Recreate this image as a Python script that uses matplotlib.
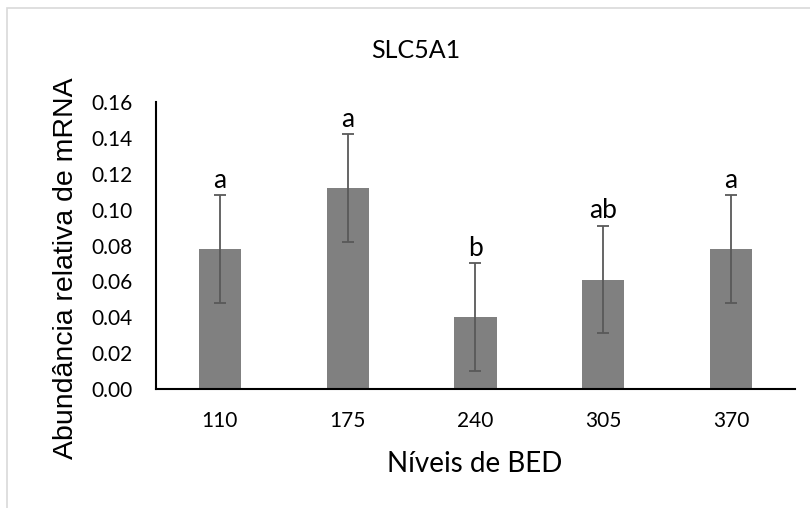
import matplotlib
matplotlib.use("Agg")
import matplotlib.pyplot as plt
from matplotlib.patches import Rectangle

categories = ["110", "175", "240", "305", "370"]
values = [0.078, 0.112, 0.040, 0.061, 0.078]
errors = [0.030, 0.030, 0.030, 0.030, 0.030]
letters = ["a", "a", "b", "ab", "a"]
yticks = [0.00, 0.02, 0.04, 0.06, 0.08, 0.10, 0.12, 0.14, 0.16]

calibri = ["Lato", "DejaVu Sans"]
arial = ["Liberation Sans", "DejaVu Sans"]

fig = plt.figure(figsize=(8.1, 5.08), dpi=100)
fig.patches.append(Rectangle((7/810, -0.1), 1.1, 1 - 8/508 + 0.1, transform=fig.transFigure,
                             fill=False, edgecolor="#d9d9d9", linewidth=1.2))
ax = fig.add_axes([156/810, 1 - 389/508, (795 - 156)/810, (389 - 102)/508])

x = list(range(len(categories)))
ax.bar(x, values, width=0.33, color="#808080", zorder=2)
ax.errorbar(x, values, yerr=errors, fmt="none", ecolor="#595959", elinewidth=1.3,
            capsize=4.5, capthick=1.3, zorder=3)
for xi, v, e, t in zip(x, values, errors, letters):
    ax.annotate(t, (xi, v + e), xytext=(0, 5.5), textcoords="offset points",
                ha="center", va="baseline", fontsize=19, family=calibri)

ax.set_xlim(-0.5, len(categories) - 0.5)
ax.set_ylim(0, 0.16)
ax.set_yticks(yticks)
ax.set_yticklabels([f"{t:.2f}" for t in yticks], family=calibri, fontsize=15)
ax.set_xticks(x)
ax.set_xticklabels(categories, family=calibri, fontsize=15)
ax.tick_params(axis="y", length=0, pad=17)
ax.tick_params(axis="x", length=0, pad=16)
for s in ["top", "right"]:
    ax.spines[s].set_visible(False)
ax.spines["left"].set_linewidth(1.5)
ax.spines["bottom"].set_linewidth(1.5)

fig.text(416/810, 1 - 51/508, "SLC5A1", family=calibri, fontsize=18, ha="center", va="center")
fig.text(475/810, 1 - 464/508, "Níveis de BED", family=calibri, fontsize=20, ha="center", va="center")
fig.text(66/810, 1 - 268/508, "Abundância relativa de mRNA", family=arial, fontsize=20.5,
         rotation=90, ha="center", va="center")

fig.savefig("out.png", dpi=100)
